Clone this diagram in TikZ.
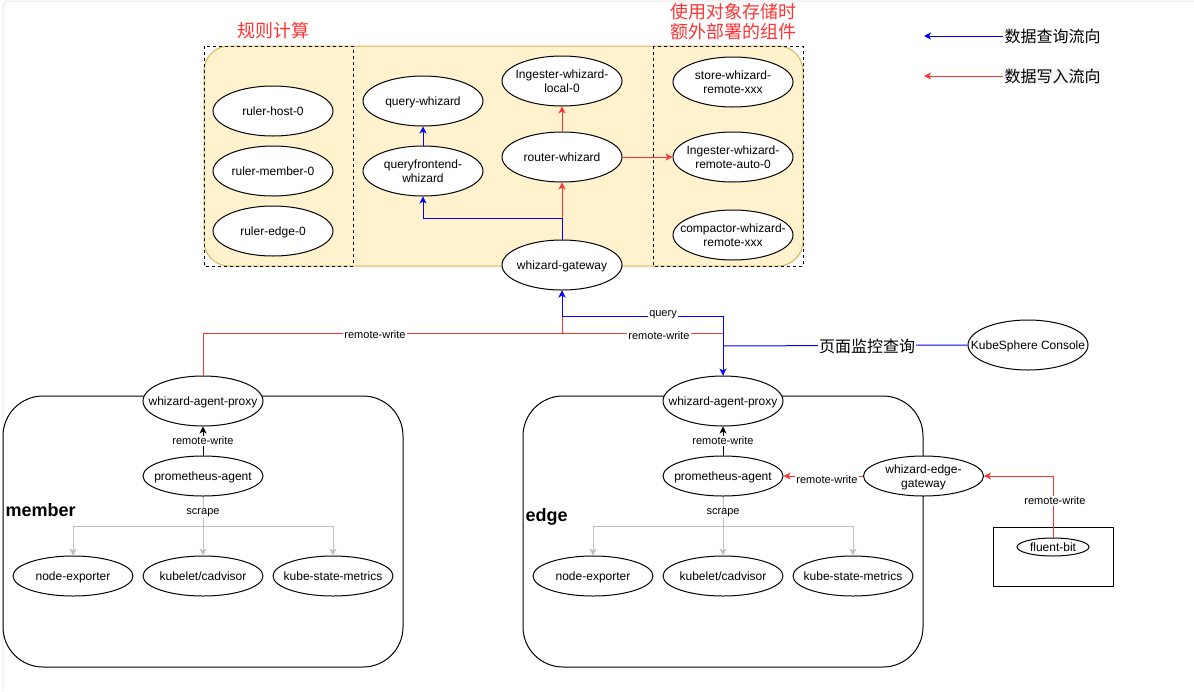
\documentclass[tikz,border=0pt]{standalone}
\usepackage{fontspec}
\setmainfont{Liberation Sans}
\newfontfamily\cjk{Noto Sans CJK SC}
\usetikzlibrary{shapes.geometric,arrows.meta,calc}
\definecolor{qblue}{RGB}{0,0,255}
\definecolor{wred}{RGB}{255,51,51}
\definecolor{sgray}{RGB}{192,192,192}
\definecolor{yfill}{RGB}{255,242,204}
\definecolor{ystroke}{RGB}{214,182,86}
\definecolor{legbg}{RGB}{245,246,248}
\definecolor{frame}{RGB}{232,232,232}
\newcommand{\ct}[1]{\makebox[0pt]{\smash{\raisebox{-4.5pt}{\begin{tabular}{@{}c@{}}#1\end{tabular}}}}}
\begin{document}
\begin{tikzpicture}[x=1pt,y=-1pt,line width=1pt,
  >={Stealth[length=7pt,width=7pt,inset=2pt]},
  ell/.style={ellipse,draw,fill=white,minimum width=120pt,minimum height=50pt,inner sep=0pt,font=\fontsize{12}{14}\selectfont},
  ells/.style={ell,minimum height=40pt},
  lbl/.style={fill=white,inner sep=1pt,font=\fontsize{11}{13}\selectfont},
  qarr/.style={draw=qblue,->},
  warr/.style={draw=wred,->},
  sarr/.style={draw=sgray,->},
  title/.style={text=wred,font=\cjk\fontsize{18}{20}\selectfont,align=center,inner sep=0pt},
  legtxt/.style={anchor=west,font=\cjk\fontsize{16}{18}\selectfont,inner sep=1pt},
  grp/.style={font=\bfseries\fontsize{18}{20}\selectfont,anchor=west,inner sep=0pt}
]
\useasboundingbox (0,0) rectangle (1194,691);
\fill[white] (0,0) rectangle (1194,691);
\draw[frame,rounded corners=6pt] (3,691) -- (3,1) -- (1194,1);

% top container
\draw[fill=yfill,draw=ystroke,rounded corners=25pt] (204,46) rectangle (803,266);
\draw[dashed,dash pattern=on 3pt off 3pt] (204,46) rectangle (353,266);
\draw[dashed,dash pattern=on 3pt off 3pt] (653,46) rectangle (803,266);
\node[title] (t1) at (273,31) {规则计算};
\node[title] (t2) at (733,22) {使用对象存储时\\额外部署的组件};

% legend
\node[legtxt] (lq) at (1003,36) {数据查询流向};
\coordinate (lqe) at (924,36);
\draw[qarr] (lq.west) -- (lqe);
\node[legtxt,fill=legbg] (lw) at (1003,76) {数据写入流向};
\coordinate (lwe) at (924,76);
\draw[warr] (lw.west) -- (lwe);

% top nodes
\node[ell] (rh) at (273,111) {\ct{ruler-host-0}};
\node[ell] (rm) at (273,171) {\ct{ruler-member-0}};
\node[ell] (re) at (273,231) {\ct{ruler-edge-0}};
\node[ell] (qw) at (423,101) {\ct{query-whizard}};
\node[ell] (qf) at (423,171) {\ct{queryfrontend-\\whizard}};
\node[ell] (il) at (562,81) {\ct{Ingester-whizard-\\local-0}};
\node[ell] (rw) at (562,157) {\ct{router-whizard}};
\node[ell] (gw) at (562,265) {\ct{whizard-gateway}};
\node[ell] (sw) at (733,82) {\ct{store-whizard-\\remote-xxx}};
\node[ell] (ir) at (733,157) {\ct{Ingester-whizard-\\remote-auto-0}};
\node[ell] (cw) at (733,235) {\ct{compactor-whizard-\\remote-xxx}};

\coordinate (gj) at (562,218);
\draw[warr] (gw.north) -- (rw.south);
\draw[warr] (rw.north) -- (il.south);
\draw[warr] (rw.east) -- (ir.west);
\draw[qarr] (gw.north) -- (gj) -| (qf.south);
\draw[qarr] (qf.north) -- (qw.south);

% containers bottom
\draw[rounded corners=40pt] (3,396) rectangle (403,667);
\draw[rounded corners=40pt] (523,396) rectangle (923,667);
\node[grp] (gm) at (5,510) {member};
\node[grp] (ge) at (525,517) {edge};

% member nodes
\node[ell] (mproxy) at (203,401) {\ct{whizard-agent-proxy}};
\node[ells] (mprom) at (203,476) {\ct{prometheus-agent}};
\node[ells] (mne) at (73,576) {\ct{node-exporter}};
\node[ells] (mkc) at (203,576) {\ct{kubelet/cadvisor}};
\node[ells] (mks) at (333,576) {\ct{kube-state-metrics}};

% edge nodes
\node[ell] (eproxy) at (723,401) {\ct{whizard-agent-proxy}};
\node[ells] (eprom) at (723,476) {\ct{prometheus-agent}};
\node[ells] (ene) at (593,576) {\ct{node-exporter}};
\node[ells] (ekc) at (723,576) {\ct{kubelet/cadvisor}};
\node[ells] (eks) at (853,576) {\ct{kube-state-metrics}};
\node[ells] (egw) at (923.5,476) {\ct{whizard-edge-\\gateway}};

% console
\node[ell] (con) at (1028,345) {\ct{KubeSphere Console}};

% fluent-bit
\node[draw,minimum width=120pt,minimum height=59pt,inner sep=0pt] (fbbox) at (1053,556.5) {};
\node[ellipse,draw,fill=white,minimum width=72pt,minimum height=18pt,inner sep=0pt,font=\fontsize{12}{14}\selectfont] (fb) at (1053,547) {\ct{fluent-bit}};

% gateway connections
\coordinate (rwj) at (562,333);
\coordinate (qj) at (723,316);
\coordinate (cj) at (723,346);
\draw[warr] (mproxy.north) |- (rwj) -- (gw.south);
\draw[draw=wred] (eproxy.north) |- (rwj);
\node[lbl] (l1) at (375,335) {remote-write};
\node[lbl] (l2) at (659,336) {remote-write};
\draw[draw=qblue,<->] (gw.south) |- (qj) -- (eproxy.north);
\node[lbl] (l3) at (663,315) {query};
\draw[draw=qblue] (con.west) -- (cj);
\node[legtxt,anchor=center,fill=white] (l4) at (867,346) {页面监控查询};

% member inner
\draw[->] (mprom.north) -- (mproxy.south) node[lbl,midway] (l5) {remote-write};
\coordinate (msj) at (203,526);
\draw[sarr] (mprom.south) -- (msj) -| (mne.north);
\draw[sarr] (msj) -- (mkc.north);
\draw[sarr] (msj) -| (mks.north);
\node[lbl] (l6) at (203,513) {scrape};

% edge inner
\draw[->] (eprom.north) -- (eproxy.south) node[lbl,midway] (l7) {remote-write};
\coordinate (esj) at (723,526);
\draw[sarr] (eprom.south) -- (esj) -| (ene.north);
\draw[sarr] (esj) -- (ekc.north);
\draw[sarr] (esj) -| (eks.north);
\node[lbl] (l8) at (723,513) {scrape};
\draw[warr] (egw.west) -- (eprom.east);
\node[lbl] (l9) at (827,480) {remote-write};
\draw[warr] (fb.north) |- (egw.east);
\node[lbl] (l10) at (1055,501) {remote-write};

\end{tikzpicture}
\end{document}
